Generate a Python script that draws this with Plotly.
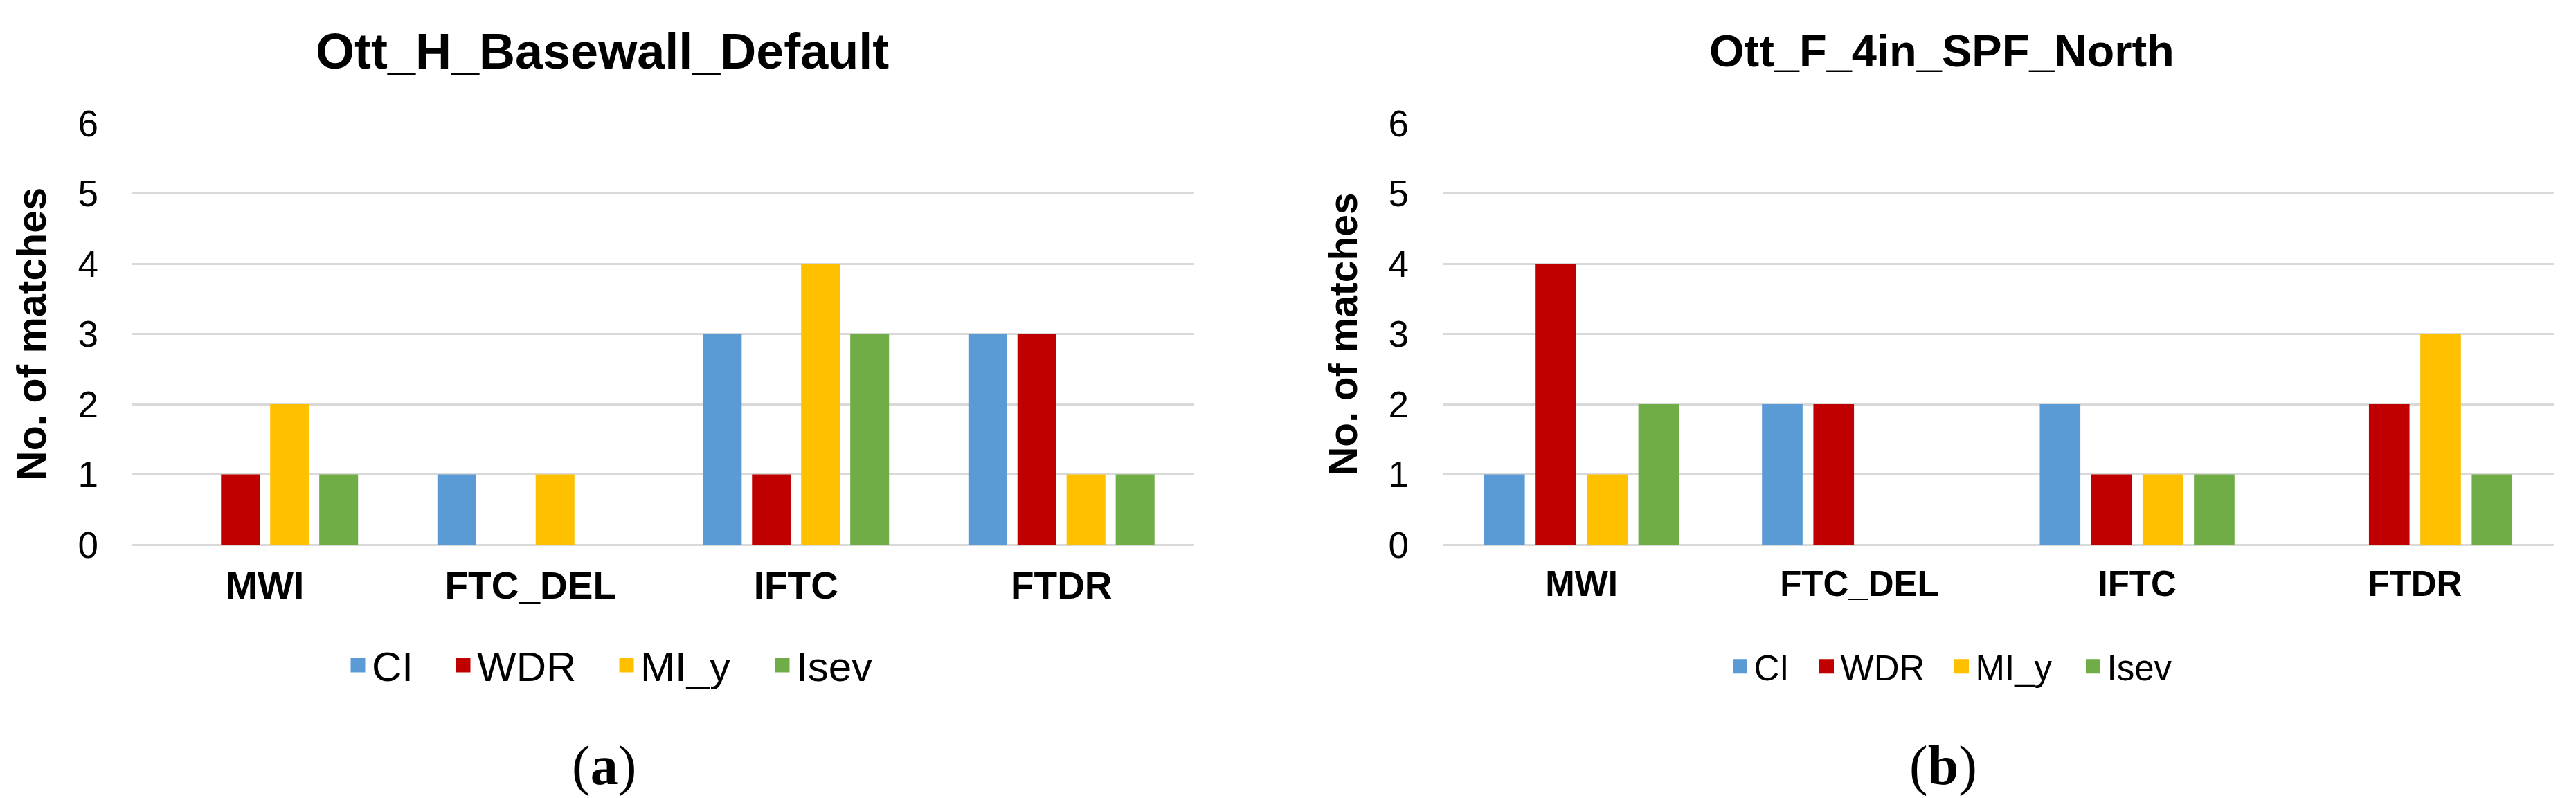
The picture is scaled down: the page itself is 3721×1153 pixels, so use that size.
import plotly.graph_objects as go

# ---------------- data ----------------
categories = ["MWI", "FTC_DEL", "IFTC", "FTDR"]
series_names = ["CI", "WDR", "MI_y", "Isev"]

# panel (a): Ott_H_Basewall_Default
a_CI = [0, 1, 3, 3]
a_WDR = [1, 0, 1, 3]
a_MI_y = [2, 1, 4, 1]
a_Isev = [1, 0, 3, 1]

# panel (b): Ott_F_4in_SPF_North
b_CI = [1, 2, 2, 0]
b_WDR = [4, 2, 1, 2]
b_MI_y = [1, 0, 1, 3]
b_Isev = [2, 0, 1, 1]

y_tick_values = [0, 1, 2, 3, 4, 5, 6]
panel_titles = ["Ott_H_Basewall_Default", "Ott_F_4in_SPF_North"]
panel_letters = ["a", "b"]
y_title = "No. of matches"

# ---------------- styles ----------------
colors = ["#5B9BD5", "#C00000", "#FFC000", "#70AD47"]
W, H = 3721, 1153
SANS = "Liberation Sans, Arial, sans-serif"
SERIF = "Liberation Serif, Times New Roman, serif"
GRID = "#d9d9d9"

def px_x(v):
    return v / W

def px_y(v):
    return 1 - v / H

panel_a = [a_CI, a_WDR, a_MI_y, a_Isev]
panel_b = [b_CI, b_WDR, b_MI_y, b_Isev]

fig = go.Figure()

for panel, xa, ya in ((panel_a, "x", "y"), (panel_b, "x2", "y2")):
    for name, vals, col in zip(series_names, panel, colors):
        fig.add_trace(go.Bar(
            x=categories, y=vals, name=name, xaxis=xa, yaxis=ya,
            marker=dict(color=col, line=dict(width=0)),
            showlegend=False,
        ))

# legend proxies (square swatches)
legend_widths_a = [107, 191, 180, 110]
legend_widths_b = [80, 150, 145, 90]
for lg, xa, ya, widths in (("legend", "x", "y", legend_widths_a),
                           ("legend2", "x2", "y2", legend_widths_b)):
    for name, col, lw in zip(series_names, colors, widths):
        fig.add_trace(go.Scatter(
            x=[None], y=[None], mode="markers", name=name,
            xaxis=xa, yaxis=ya, legend=lg, legendwidth=lw,
            marker=dict(symbol="square", size=16, color=col,
                        line=dict(color=col, width=5)),
        ))

xaxis_common = dict(
    type="category", showgrid=False, showline=False, zeroline=False,
    ticks="", ticklabelstandoff=22,
)
yaxis_common = dict(
    range=[0, 6], tickvals=y_tick_values, showgrid=True, gridcolor=GRID,
    gridwidth=3, zeroline=True, zerolinecolor=GRID, zerolinewidth=3,
    showline=False, ticks="", ticklabelstandoff=48,
    tickfont=dict(family=SANS, size=53, color="#000000"),
)

ydom = [px_y(779), px_y(170)]

fig.update_layout(
    width=W, height=H, template="none",
    paper_bgcolor="white", plot_bgcolor="white",
    margin=dict(l=0, r=0, t=0, b=0),
    font=dict(family=SANS, color="#000000"),
    barmode="group", bargap=0.26, bargroupgap=0.21,
    xaxis=dict(domain=[px_x(183), px_x(1717)], anchor="y",
               tickfont=dict(family=SANS, size=55, color="#000000", weight="bold"),
               **xaxis_common),
    xaxis2=dict(domain=[px_x(2076), px_x(3681)], anchor="y2",
                tickfont=dict(family=SANS, size=51, color="#000000", weight="bold"),
                **xaxis_common),
    yaxis=dict(domain=ydom, anchor="x",
               title=dict(text=y_title, standoff=26,
                          font=dict(family=SANS, size=59, color="#000000", weight="bold")),
               **yaxis_common),
    yaxis2=dict(domain=ydom, anchor="x2",
                title=dict(text=y_title, standoff=26,
                           font=dict(family=SANS, size=57, color="#000000", weight="bold")),
                **yaxis_common),
    legend=dict(orientation="h", x=px_x(873), xanchor="center",
                y=px_y(953), yanchor="middle", bgcolor="rgba(0,0,0,0)",
                font=dict(family=SANS, size=60, color="#000000"),
                itemwidth=30, traceorder="normal"),
    legend2=dict(orientation="h", x=px_x(2808), xanchor="center",
                 y=px_y(955), yanchor="middle", bgcolor="rgba(0,0,0,0)",
                 font=dict(family=SANS, size=51, color="#000000"),
                 itemwidth=30, traceorder="normal"),
)

# panel titles
for title, cx, size in zip(panel_titles, (862, 2797), (72, 65)):
    fig.add_annotation(
        text=title, xref="paper", yref="paper", x=px_x(cx), y=px_y(66),
        xanchor="center", yanchor="middle", showarrow=False,
        font=dict(family=SANS, size=size, color="#000000", weight="bold"),
    )

# panel letters (a), (b)
for letter, cx in zip(panel_letters, (864, 2799)):
    fig.add_annotation(
        text="(<b>" + letter + "</b>)", xref="paper", yref="paper",
        x=px_x(cx), y=px_y(1098), xanchor="center", yanchor="middle",
        showarrow=False, font=dict(family=SERIF, size=80, color="#000000"),
    )

fig.write_html("out.html")
